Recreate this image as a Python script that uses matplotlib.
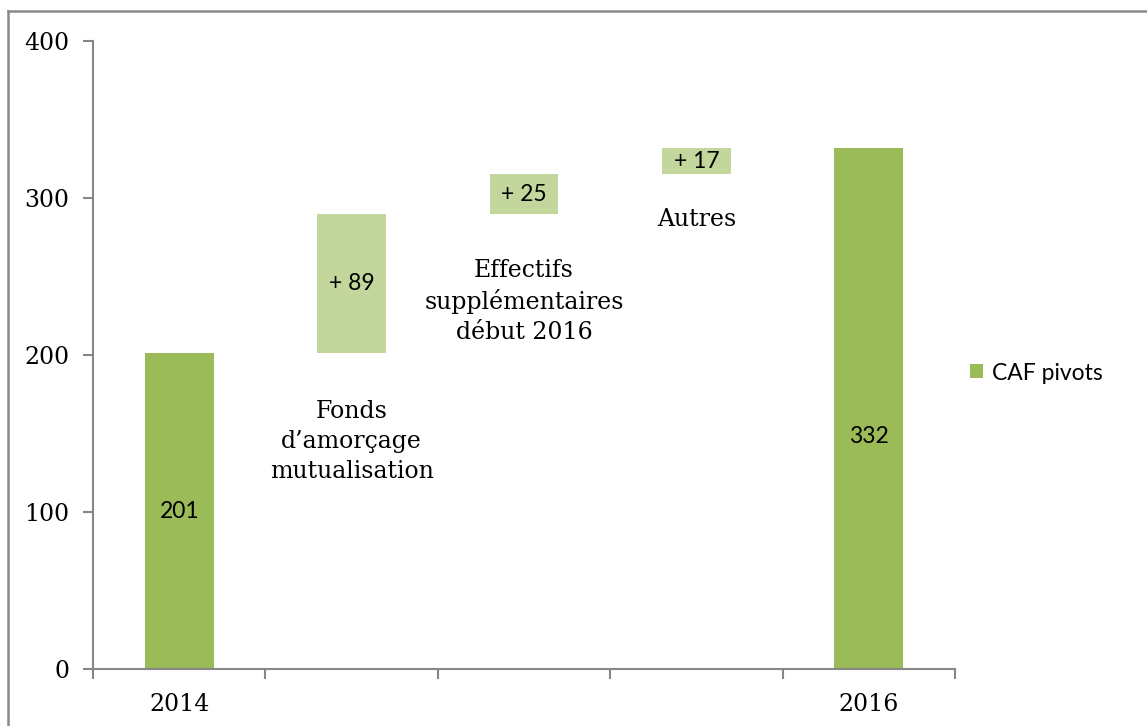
import matplotlib
matplotlib.use("Agg")
import matplotlib.pyplot as plt
from matplotlib.lines import Line2D

# Data
categories = ["2014", "Fonds\nd’amorçage\nmutualisation", "Effectifs\nsupplémentaires\ndébut 2016", "Autres", "2016"]
tick_labels = ["2014", "", "", "", "2016"]
totals = {0: 201, 4: 332}
increments = [89, 25, 17]
bar_labels = ["201", "+ 89", "+ 25", "+ 17", "332"]
series_name = "CAF pivots"

DARK = "#9BBB59"
LIGHT = "#C3D69B"
AXIS = "#878787"
SERIF = ["DejaVu Serif"]
SANS = ["Lato", "DejaVu Sans"]

fig = plt.figure(figsize=(11.47, 7.26), dpi=100)
ax = fig.add_axes([93/1147, 1-669/726, (955-93)/1147, (669-41)/726])

w = 0.4
b0 = ax.bar(0, totals[0], width=w, color=DARK, label=series_name, zorder=2)
ax.bar(4, totals[4], width=w, color=DARK, zorder=2)
base = totals[0]
bases = []
for i, inc in enumerate(increments):
    ax.bar(i + 1, inc, bottom=base, width=w, color=LIGHT, zorder=2)
    bases.append(base)
    base += inc

lab_fs = 16.5
ax.text(0, totals[0] / 2, bar_labels[0], ha="center", va="center", fontsize=lab_fs, family=SANS)
for i, inc in enumerate(increments):
    ax.text(i + 1, bases[i] + inc / 2, bar_labels[i + 1], ha="center", va="center", fontsize=lab_fs, family=SANS)
ax.text(4, 148, bar_labels[4], ha="center", va="center", fontsize=lab_fs, family=SANS)

ann_fs = 17
ax.text(1, 145, categories[1], ha="center", va="center", fontsize=ann_fs, family=SERIF, linespacing=1.38)
ax.text(2, 234, categories[2], ha="center", va="center", fontsize=ann_fs, family=SERIF, linespacing=1.38)
ax.text(3, 286, categories[3], ha="center", va="center", fontsize=ann_fs, family=SERIF)

ax.set_xlim(-0.5, 4.5)
ax.set_ylim(0, 400)
ax.set_yticks([0, 100, 200, 300, 400])
ax.set_xticks(range(5))
ax.set_xticklabels(tick_labels)
ax.set_xticks([x - 0.5 for x in range(6)], minor=True)
ax.tick_params(axis="x", which="major", length=0, pad=17)
ax.tick_params(axis="x", which="minor", length=7, width=1.5, color=AXIS, direction="out")
ax.tick_params(axis="y", length=7, width=1.5, color=AXIS, direction="out", pad=10)
for lab in ax.get_xticklabels() + ax.get_yticklabels():
    lab.set_fontfamily(SERIF)
    lab.set_fontsize(17)

for s in ["top", "right"]:
    ax.spines[s].set_visible(False)
for s in ["left", "bottom"]:
    ax.spines[s].set_color(AXIS)
    ax.spines[s].set_linewidth(1.5)

leg = ax.legend(handles=[b0], loc="center left", bbox_to_anchor=(970/1147, 1-373/726),
                bbox_transform=fig.transFigure, frameon=False, handlelength=0.55,
                handleheight=0.55, handletextpad=0.4, borderpad=0, borderaxespad=0,
                prop={"family": SANS, "size": 16.5})

fig.add_artist(Line2D([8/1147, 8/1147], [0, 1-10.5/726], transform=fig.transFigure, color="#8a8a8a", lw=1.8))
fig.add_artist(Line2D([8/1147, 1], [1-10.5/726, 1-10.5/726], transform=fig.transFigure, color="#8a8a8a", lw=1.8))

fig.savefig("out.png", dpi=100)
